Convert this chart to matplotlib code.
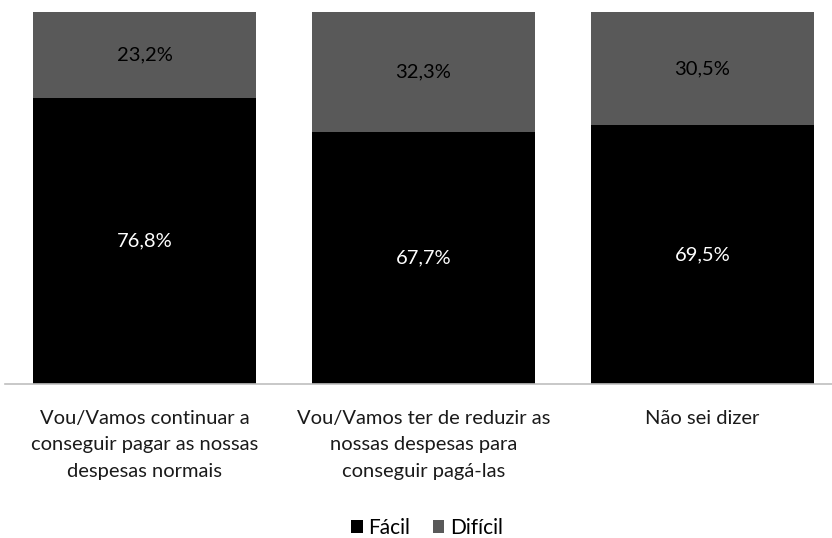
import matplotlib.pyplot as plt
import numpy as np

categories = ["Vou/Vamos continuar a\nconseguir pagar as nossas\ndespesas normais",
              "Vou/Vamos ter de reduzir as\nnossas despesas para\nconseguir pagá-las",
              "Não sei dizer"]
facil = [76.8, 67.7, 69.5]
dificil = [23.2, 32.3, 30.5]

plt.rcParams['font.family'] = ['Lato', 'DejaVu Sans']

fig = plt.figure(figsize=(8.32, 5.38), dpi=100)
ax = fig.add_axes([5 / 832, 1 - 384 / 538, 837 / 832, 372 / 538])

x = np.arange(len(categories))
b1 = ax.bar(x, facil, width=0.8, color="#000000", label="Fácil")
b2 = ax.bar(x, dificil, width=0.8, bottom=facil, color="#595959", label="Difícil")

for i in range(len(x)):
    ax.text(x[i], facil[i] / 2, f"{facil[i]:.1f}%".replace(".", ","),
            ha="center", va="center", color="white", fontsize=14.5)
    ax.text(x[i], facil[i] + dificil[i] / 2, f"{dificil[i]:.1f}%".replace(".", ","),
            ha="center", va="center", color="black", fontsize=14.5)

ax.set_xlim(-0.5, 2.5)
ax.set_ylim(0, 100)
ax.set_xticks(x)
ax.set_xticklabels([])
ax.tick_params(axis="x", length=0)
# category labels as plain text so the line spacing sticks
for i in range(len(x)):
    ax.annotate(categories[i], xy=(x[i], 0), xytext=(0, -19),
                xycoords="data", textcoords="offset points",
                ha="center", va="top", fontsize=14.5, color="#1a1a1a",
                linespacing=1.65, annotation_clip=False)
ax.set_yticks([])
for s in ["top", "right", "left"]:
    ax.spines[s].set_visible(False)
ax.spines["bottom"].set_color("#bfbfbf")
ax.spines["bottom"].set_linewidth(1.2)

fig.legend(handles=[b1, b2], labels=["Fácil", "Difícil"], loc="center",
           bbox_to_anchor=(427 / 832, 1 - 528 / 538), ncol=2, frameon=False,
           fontsize=15, handlelength=0.55, handleheight=0.55, handletextpad=0.25,
           columnspacing=1.1, borderpad=0)

fig.savefig("out.png", dpi=100)
